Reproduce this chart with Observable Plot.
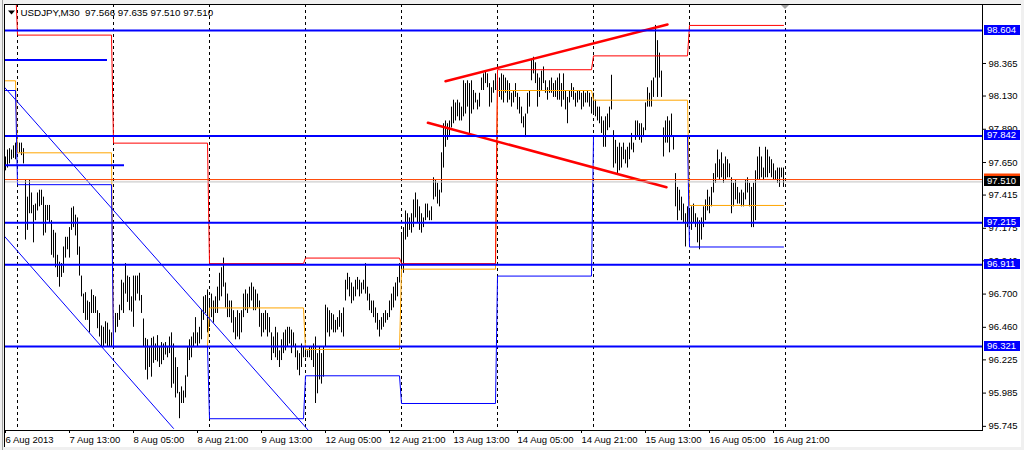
<!DOCTYPE html>
<html><head><meta charset="utf-8">
<script src="https://cdn.jsdelivr.net/npm/d3@7"></script>
<script src="https://cdn.jsdelivr.net/npm/@observablehq/plot@0.6"></script>
<style>
html,body{margin:0;padding:0;background:#fff;}
#wrap{position:relative;width:1024px;height:450px;overflow:hidden;background:#f0f0f0;}
#edge{position:absolute;left:2px;top:0;width:1px;height:450px;background:#a0a0a0;}
#inner{position:absolute;left:4px;top:4px;width:1017px;height:443px;background:#fff;border-left:1px solid #000;border-top:1px solid #000;box-sizing:border-box;}
#wrap svg{position:absolute;left:0;top:0;}
</style></head><body><div id="wrap"><div id="edge"></div><div id="inner"></div></div>
<script>
// ---- data ----
const header = "USDJPY,M30  97.566 97.635 97.510 97.510";
const barHigh = [
97.69,97.74,97.75,97.74,97.77,97.79,97.79,97.79,97.79,97.75,97.52,97.40,97.52,97.43,97.34,97.35,
97.43,97.45,97.45,97.40,97.34,97.34,97.34,97.23,97.16,97.14,96.98,96.93,96.92,97.04,97.11,97.11,
97.18,97.32,97.33,97.27,97.25,97.04,96.83,96.70,96.71,96.65,96.64,96.73,96.69,96.68,96.58,96.56,
96.47,96.46,96.50,96.49,96.44,96.42,96.51,96.56,96.56,96.62,96.80,96.78,96.92,96.83,96.82,96.68,
96.83,96.83,96.83,96.85,96.69,96.52,96.38,96.37,96.32,96.38,96.39,96.34,96.40,96.32,96.35,96.34,
96.35,96.32,96.39,96.42,96.34,96.24,96.17,95.99,96.03,96.00,96.11,96.32,96.37,96.39,96.42,96.53,
96.42,96.46,96.58,96.68,96.69,96.73,96.65,96.70,96.65,96.68,96.75,96.85,96.89,96.96,96.78,96.70,
96.65,96.65,96.58,96.53,96.58,96.56,96.58,96.70,96.73,96.70,96.75,96.78,96.75,96.73,96.70,96.65,
96.56,96.56,96.58,96.56,96.53,96.42,96.39,96.46,96.42,96.29,96.37,96.42,96.44,96.46,96.46,96.44,
96.42,96.34,96.29,96.27,96.34,96.32,96.32,96.29,96.32,96.32,96.34,96.39,96.27,96.32,96.27,96.32,
96.62,96.60,96.58,96.56,96.55,96.51,96.53,96.58,96.56,96.60,96.80,96.85,96.82,96.78,96.75,96.80,
96.82,96.80,96.78,96.80,96.92,96.75,96.70,96.65,96.65,96.60,96.56,96.51,96.53,96.56,96.58,96.56,
96.65,96.70,96.75,96.78,96.82,96.92,97.14,97.18,97.30,97.28,97.25,97.28,97.38,97.43,97.38,97.33,
97.28,97.25,97.35,97.35,97.30,97.33,97.54,97.52,97.50,97.45,97.72,97.93,97.95,97.93,97.95,98.05,
98.10,98.08,98.10,98.08,98.05,98.24,98.22,98.24,98.22,98.24,98.17,98.15,98.10,98.15,98.26,98.29,
98.31,98.29,98.22,98.19,98.24,98.29,98.24,98.26,98.29,98.28,98.26,98.24,98.22,98.15,98.17,98.22,
98.15,98.12,98.05,97.98,98.00,98.15,98.17,98.39,98.41,98.37,98.29,98.26,98.31,98.34,98.24,98.19,
98.24,98.26,98.22,98.24,98.26,98.29,98.22,98.29,98.17,98.12,98.17,98.22,98.19,98.15,98.17,98.17,
98.15,98.17,98.15,98.17,98.15,98.12,98.15,98.10,98.05,98.05,97.98,97.95,97.98,98.00,98.05,98.28,
97.88,97.81,97.76,97.79,97.76,97.79,97.74,97.76,97.79,97.86,97.79,97.95,97.95,97.93,97.93,97.90,
98.08,98.19,98.15,98.24,98.26,98.64,98.53,98.44,98.31,97.90,97.95,97.98,97.95,98.00,97.83,97.57,
97.47,97.45,97.40,97.35,97.28,97.33,97.30,97.33,97.35,97.28,97.25,97.23,97.25,97.33,97.38,97.45,
97.40,97.47,97.57,97.64,97.74,97.67,97.72,97.64,97.69,97.67,97.64,97.54,97.50,97.52,97.47,97.43,
97.45,97.43,97.52,97.54,97.50,97.47,97.50,97.59,97.69,97.76,97.69,97.61,97.76,97.74,97.69,97.67,
97.64,97.59,97.61,97.61,97.61,97.61
];
const barLow = [
97.59,97.61,97.64,97.67,97.68,97.67,97.72,97.72,97.70,97.64,97.09,97.16,97.28,97.28,97.07,97.23,
97.30,97.33,97.34,97.12,97.14,97.23,97.21,96.98,96.96,96.89,96.82,96.75,96.82,96.85,96.96,97.02,
96.96,97.16,97.18,97.12,96.98,96.83,96.68,96.56,96.51,96.51,96.42,96.56,96.56,96.56,96.45,96.39,
96.32,96.32,96.34,96.32,96.32,96.32,96.32,96.42,96.46,96.51,96.58,96.56,96.70,96.64,96.58,96.57,
96.46,96.65,96.70,96.65,96.56,96.32,96.15,96.08,96.17,96.10,96.20,96.22,96.21,96.17,96.19,96.22,
96.26,96.24,96.27,96.02,96.05,95.95,95.98,95.80,95.91,95.91,95.95,96.10,96.22,96.24,96.32,96.34,
96.32,96.34,96.37,96.51,96.56,96.42,96.46,96.53,96.49,96.56,96.56,96.65,96.68,96.75,96.60,96.53,
96.53,96.49,96.42,96.37,96.39,96.37,96.42,96.53,96.58,96.56,96.60,96.65,96.58,96.58,96.60,96.46,
96.39,96.42,96.44,96.39,96.42,96.22,96.27,96.24,96.22,96.17,96.22,96.27,96.29,96.32,96.34,96.27,
96.32,96.24,96.15,96.11,96.17,96.24,96.24,96.24,96.24,96.22,96.17,95.91,95.98,96.08,96.05,96.10,
96.32,96.42,96.39,96.44,96.42,96.42,96.44,96.46,96.42,96.39,96.65,96.73,96.68,96.63,96.65,96.68,
96.73,96.68,96.70,96.73,96.70,96.65,96.58,96.56,96.53,96.49,96.44,96.39,96.44,96.46,96.49,96.51,
96.53,96.58,96.60,96.65,96.68,96.78,96.83,96.85,97.09,97.11,97.16,97.14,97.18,97.25,97.21,97.16,
97.14,97.18,97.23,97.25,97.23,97.23,97.38,97.40,97.35,97.33,97.43,97.61,97.76,97.81,97.83,97.90,
97.93,97.95,97.98,97.95,97.95,97.98,98.00,98.05,97.86,98.00,98.03,98.08,98.03,98.05,98.17,98.17,
98.22,98.19,98.05,98.08,98.15,98.17,98.10,98.12,98.10,98.08,98.15,98.08,98.10,98.05,98.08,98.12,
98.03,98.00,97.93,97.90,97.83,98.00,98.05,98.24,98.29,98.22,98.05,98.12,98.17,98.22,98.15,98.10,
98.15,98.15,98.12,98.12,98.10,98.10,98.05,98.10,98.03,97.93,98.08,98.12,98.10,98.05,98.08,98.10,
98.03,98.05,98.08,98.08,98.05,98.00,98.00,97.98,97.95,97.93,97.86,97.76,97.76,97.88,97.90,98.03,
97.61,97.64,97.57,97.59,97.61,97.67,97.64,97.61,97.67,97.74,97.72,97.81,97.83,97.81,97.79,97.83,
97.88,98.05,98.05,98.05,98.12,98.26,98.12,98.26,98.12,97.69,97.79,97.79,97.72,97.83,97.74,97.33,
97.23,97.30,97.23,97.21,97.04,97.18,97.21,97.16,97.21,97.18,97.07,97.02,97.09,97.18,97.23,97.30,
97.28,97.33,97.43,97.50,97.54,97.52,97.54,97.50,97.52,97.54,97.54,97.28,97.33,97.38,97.35,97.35,
97.33,97.33,97.38,97.43,97.33,97.18,97.18,97.23,97.52,97.52,97.54,97.52,97.54,97.54,97.57,97.54,
97.52,97.52,97.50,97.47,97.54,97.47
];
// day boundaries (bar index of the first M30 bar of each day) and daily reference levels
const dayStarts  = [0, 6, 54, 102, 150, 198, 246, 294, 342];
const separators = [6, 54, 102, 150, 198, 246, 294, 342, 390];
const prevHigh  = [98.95, 98.57, 97.79, 96.92, 96.96, 96.92, 98.32, 98.42, 98.64];
const prevClose = [98.24, 97.72, 96.32, 96.60, 96.30, 96.88, 98.17, 98.10, 97.34];
const prevLow   = [98.17, 97.49, 96.32, 95.80, 96.11, 95.91, 96.83, 97.84, 97.04];
// support / resistance levels
const srLevels = [98.604, 97.842, 97.215, 96.911, 96.321];
const bidPrice = 97.510, askPrice = 97.527;
// drawn objects
const objLevels = [98.39, 97.63];
const objStart  = [-0.5, -0.5];
const objEnd    = [51, 59.5];
const redUpperI = [220, 331],     redUpperP = [98.237, 98.647];
const redLowerI = [211.2, 330.5], redLowerP = [97.937, 97.472];
const chUpperI  = [-0.5, 151.5],  chUpperP  = [98.193, 95.715];
const chLowerI  = [-0.5, 84],     chLowerP  = [97.117, 95.730];
// axes
const xTickIdx = [0, 32, 64, 96, 128, 160, 192, 224, 256, 288, 320, 352, 384];
const xTickLabels = ["6 Aug 2013","7 Aug 13:00","8 Aug 05:00","8 Aug 21:00","9 Aug 13:00","12 Aug 05:00","12 Aug 21:00","13 Aug 13:00","14 Aug 05:00","14 Aug 21:00","15 Aug 13:00","16 Aug 05:00","16 Aug 21:00"];
const yTicks = [98.365, 98.130, 97.890, 97.650, 97.415, 97.175, 96.940, 96.700, 96.460, 96.225, 95.985, 95.745];

// ---- build tables ----
const n = Math.min(barHigh.length, barLow.length);
const bars = d3.range(n).map(i => ({i, hi: barHigh[i], lo: barLow[i]}));
const lastBar = n - 1;
function steps(levels) {
  return dayStarts.flatMap((s, k) => {
    const e = k < dayStarts.length - 1 ? dayStarts[k + 1] - 1 : lastBar;
    return [{i: s, p: levels[k]}, {i: e, p: levels[k]}];
  });
}
const seg = (I, P) => I.map((i, k) => ({i, p: P[k]}));
const objs = objLevels.map((p, k) => ({p, i1: objStart[k], i2: objEnd[k]}));
const xLabel = new Map(xTickIdx.map((d, k) => [d, xTickLabels[k]]));
const BLUE = "#0000ff";
const font = "Liberation Sans, Arial, sans-serif";

const plot = Plot.plot({
  width: 1024, height: 450,
  marginLeft: 4, marginRight: 42, marginTop: 4, marginBottom: 20,
  style: {background: "transparent", fontFamily: font, fontSize: "9.5px", color: "black", overflow: "visible"},
  x: {type: "linear", domain: [-0.5, 488.5], axis: null},
  y: {domain: [95.715, 98.791], axis: null},
  marks: [
    Plot.ruleX(separators, {stroke: "black", strokeDasharray: "3,3"}),
    Plot.ruleX(bars, {x: "i", y1: "lo", y2: "hi", stroke: "black", strokeWidth: 1}),
    Plot.line(steps(prevClose), {x: "i", y: "p", stroke: "#ffa500", strokeWidth: 1, clip: true}),
    Plot.line(steps(prevLow), {x: "i", y: "p", stroke: BLUE, strokeWidth: 1, clip: true}),
    Plot.line(steps(prevHigh), {x: "i", y: "p", stroke: "#ff0000", strokeWidth: 1, clip: true}),
    Plot.line(seg(chUpperI, chUpperP), {x: "i", y: "p", stroke: BLUE, strokeWidth: 1, clip: true}),
    Plot.line(seg(chLowerI, chLowerP), {x: "i", y: "p", stroke: BLUE, strokeWidth: 1, clip: true}),
    Plot.line(seg(redUpperI, redUpperP), {x: "i", y: "p", stroke: "#ff0000", strokeWidth: 2.5}),
    Plot.line(seg(redLowerI, redLowerP), {x: "i", y: "p", stroke: "#ff0000", strokeWidth: 2.5}),
    Plot.ruleY(objs, {y: "p", x1: "i1", x2: "i2", stroke: BLUE, strokeWidth: 2}),
    Plot.ruleY(srLevels, {stroke: BLUE, strokeWidth: 2}),
    Plot.ruleY([bidPrice], {stroke: "#c0c0c0", strokeWidth: 1}),
    Plot.ruleY([askPrice], {stroke: "#ff4500", strokeWidth: 1}),
    Plot.frame({stroke: "black"}),
    Plot.text([header], {text: d => d, frameAnchor: "top-left", dx: 16, dy: 8, textAnchor: "start", lineAnchor: "middle", fill: "black", fontSize: 9.8}),
    Plot.axisX({ticks: xTickIdx, tickFormat: d => xLabel.get(d), tickSize: 3, tickPadding: 3, textAnchor: "start", label: null, fontSize: 9.5}),
    Plot.axisY({anchor: "right", ticks: yTicks, tickFormat: d => d.toFixed(3), tickSize: 3, tickPadding: 3, label: null, fontSize: 9.5})
  ]
});
document.getElementById("wrap").appendChild(plot);

// price boxes on the right axis, positioned via the plot's own y scale
const ys = plot.scale("y"), xs = plot.scale("x");
const svg = d3.select(plot);
function box(v, bg, fg, h) {
  const y = ys.apply(v);
  svg.append("rect").attr("x", 984).attr("y", Math.round(y) - h / 2).attr("width", 36).attr("height", h).attr("fill", bg);
  svg.append("text").attr("x", 987).attr("y", Math.round(y)).attr("dy", "0.35em")
    .attr("text-anchor", "start")
    .attr("fill", fg).attr("font-family", font).attr("font-size", "9.5px").text(v.toFixed(3));
}
srLevels.forEach(v => box(v, BLUE, "white", 10));
box(askPrice, "#ff4500", "white", 11);
box(bidPrice, "black", "white", 10);
// small symbol markers
svg.append("path").attr("d", "M8,10.5H15L11.5,14.5Z").attr("fill", "black");
const sx = xs.apply(separators[separators.length - 1]);
svg.append("path").attr("d", `M${sx - 4},5H${sx + 4}L${sx},9Z`).attr("fill", "#a0a0a0");
if (barHigh.length !== barLow.length || n !== 390) {
  svg.append("text").attr("x", 600).attr("y", 445).attr("fill", "red").text("len " + barHigh.length + " " + barLow.length);
}
</script></body></html>
